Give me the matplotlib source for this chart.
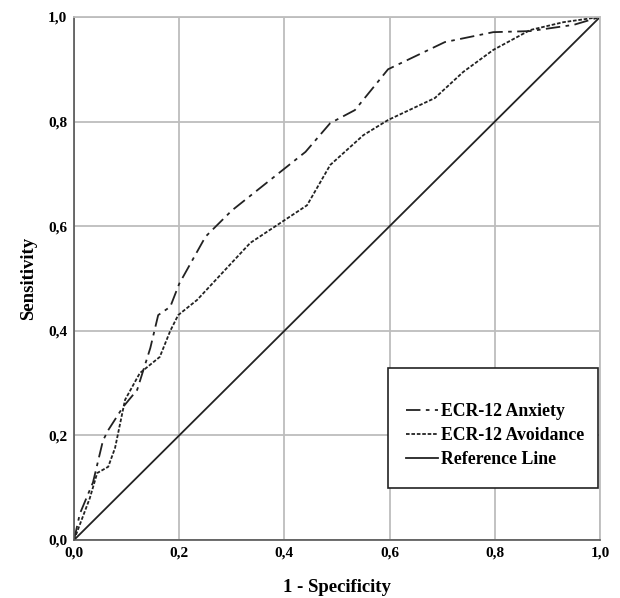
import matplotlib
matplotlib.use("Agg")
import matplotlib.pyplot as plt
from matplotlib.patches import Rectangle
from matplotlib.ticker import FuncFormatter

# ROC curve points
anx_x = [0.0, 0.011, 0.036, 0.055, 0.065, 0.093, 0.12, 0.145, 0.16, 0.183, 0.2, 0.25,
         0.3, 0.35, 0.44, 0.487, 0.534, 0.597, 0.705, 0.797, 0.867, 0.95, 1.0]
anx_y = [0.0, 0.05, 0.11, 0.19, 0.21, 0.254, 0.287, 0.367, 0.43, 0.446, 0.49, 0.58,
         0.63, 0.67, 0.742, 0.797, 0.822, 0.90, 0.952, 0.971, 0.973, 0.985, 1.0]

avo_x = [0.0, 0.03, 0.044, 0.065, 0.078, 0.097, 0.125, 0.163, 0.183, 0.198, 0.234,
         0.335, 0.443, 0.487, 0.55, 0.597, 0.686, 0.74, 0.797, 0.867, 0.93, 1.0]
avo_y = [0.0, 0.08, 0.128, 0.14, 0.176, 0.268, 0.319, 0.35, 0.40, 0.43, 0.459,
         0.568, 0.64, 0.717, 0.774, 0.803, 0.845, 0.895, 0.937, 0.975, 0.99, 1.0]

ref_x = [0.0, 1.0]
ref_y = [0.0, 1.0]

ticks = [0.0, 0.2, 0.4, 0.6, 0.8, 1.0]

plt.rcParams['font.family'] = ['Liberation Serif', 'DejaVu Serif']

fig = plt.figure(figsize=(6.2, 5.98), dpi=100)
ax = fig.add_axes([0.1194, 0.097, 0.8484, 0.8746])

ax.plot(anx_x, anx_y, color='#222222', lw=1.3, dashes=(8, 3, 2, 3), label='ECR-12 Anxiety')
ax.plot(avo_x, avo_y, color='#222222', lw=1.3, dashes=(2, 1), label='ECR-12 Avoidance')
ax.plot(ref_x, ref_y, color='#222222', lw=1.3, label='Reference Line')

ax.set_xlim(0, 1)
ax.set_ylim(0, 1)
ax.set_xticks(ticks)
ax.set_yticks(ticks)
fmt = FuncFormatter(lambda v, p: ('%.1f' % v).replace('.', ','))
ax.xaxis.set_major_formatter(fmt)
ax.yaxis.set_major_formatter(fmt)
ax.tick_params(length=0, labelsize=11, pad=5)
for lab in ax.get_xticklabels() + ax.get_yticklabels():
    lab.set_fontweight('bold')
ax.grid(True, color='#bdbdbd', lw=1.3)
ax.set_axisbelow(True)
for s in ['top', 'right']:
    ax.spines[s].set_color('#bdbdbd')
    ax.spines[s].set_linewidth(1.3)
for s in ['left', 'bottom']:
    ax.spines[s].set_color('#555555')
    ax.spines[s].set_linewidth(1.2)

ax.set_xlabel('1 - Specificity', fontsize=13.5, fontweight='bold', labelpad=14)
ax.set_ylabel('Sensitivity', fontsize=13.5, fontweight='bold', labelpad=8)

# legend box
ax.add_patch(Rectangle((0.597, 0.099), 0.399, 0.230, transform=ax.transAxes,
                       facecolor='white', edgecolor='#222222', lw=1.2, zorder=4))
leg = ax.legend(loc='upper left', bbox_to_anchor=(0.601, 0.292), frameon=False,
                handlelength=1.8, handletextpad=0.16, labelspacing=0.38,
                prop={'size': 12.8, 'weight': 'bold'})
leg.set_zorder(5)

fig.savefig('out.png', dpi=100)
